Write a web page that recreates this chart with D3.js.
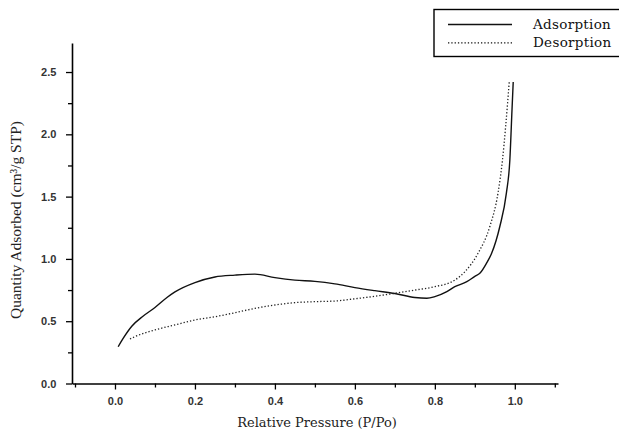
<!DOCTYPE html>
<meta charset="utf-8">
<style>
  body { margin: 0; background: #fff; }
  .tick text { font-family: "Liberation Sans", Arial, sans-serif; font-size: 11px; font-weight: bold; fill: #333; }
</style>
<svg width="619" height="432"></svg>
<script src="https://d3js.org/d3.v7.min.js"></script>
<script>

var adsX = [0.008, 0.02, 0.042, 0.07, 0.1, 0.13, 0.15, 0.2, 0.25, 0.3, 0.35, 0.4, 0.45, 0.5, 0.55, 0.6, 0.65, 0.7, 0.75, 0.78, 0.8, 0.83, 0.85, 0.88, 0.9, 0.9125, 0.93, 0.942, 0.9625, 0.979, 0.9875, 0.993, 0.996];
var adsY = [0.295, 0.36, 0.46, 0.54, 0.61, 0.69, 0.735, 0.81, 0.855, 0.87, 0.878, 0.85, 0.83, 0.82, 0.80, 0.77, 0.745, 0.722, 0.69, 0.684, 0.697, 0.737, 0.777, 0.817, 0.86, 0.884, 0.97, 1.045, 1.26, 1.53, 1.79, 2.2, 2.42];

var desX = [0.0375, 0.05, 0.1, 0.15, 0.2, 0.25, 0.3, 0.35, 0.4, 0.45, 0.5, 0.55, 0.6, 0.65, 0.7, 0.75, 0.8, 0.85, 0.875, 0.908, 0.9375, 0.958, 0.969, 0.977, 0.986];
var desY = [0.357, 0.376, 0.43, 0.47, 0.51, 0.536, 0.568, 0.603, 0.63, 0.649, 0.657, 0.662, 0.68, 0.70, 0.724, 0.75, 0.777, 0.83, 0.897, 1.045, 1.26, 1.53, 1.79, 2.06, 2.42];

var xTicks = [0.0, 0.2, 0.4, 0.6, 0.8, 1.0];
var yTicks = [0.0, 0.5, 1.0, 1.5, 2.0, 2.5];
var seriesNames = ["Adsorption", "Desorption"];

var svg = d3.select("svg");

var x = d3.scaleLinear().domain([-0.1075, 1.108]).range([72, 558]);
var y = d3.scaleLinear().domain([0, 2.733]).range([383.5, 43]);

// x axis: major ticks with labels, minor ticks in between
var xAxis = svg.append("g")
    .attr("transform", "translate(0," + y(0) + ")")
    .call(d3.axisBottom(x).tickValues(xTicks).tickFormat(d3.format(".1f")).tickSize(6).tickSizeOuter(0));
svg.append("g")
    .attr("transform", "translate(0," + y(0) + ")")
    .call(d3.axisBottom(x).tickValues([-0.1, 0.1, 0.3, 0.5, 0.7, 0.9, 1.1]).tickFormat("").tickSize(4).tickSizeOuter(0))
    .select(".domain").remove();

var yAxis = svg.append("g")
    .attr("transform", "translate(" + x.range()[0] + ",0)")
    .call(d3.axisLeft(y).tickValues(yTicks).tickFormat(d3.format(".1f")).tickSize(6).tickSizeOuter(0));
svg.append("g")
    .attr("transform", "translate(" + x.range()[0] + ",0)")
    .call(d3.axisLeft(y).tickValues([0.25, 0.75, 1.25, 1.75, 2.25]).tickFormat("").tickSize(4).tickSizeOuter(0))
    .select(".domain").remove();

svg.selectAll(".domain").attr("stroke", "#000").attr("stroke-width", 1.6);
svg.selectAll(".tick line").attr("stroke", "#000").attr("stroke-width", 1.3);
xAxis.selectAll(".tick text").attr("dy", "1.1em");
yAxis.selectAll(".tick text").attr("dx", "-0.6em");

var line = d3.line()
    .x(function(d) { return x(d[0]); })
    .y(function(d) { return y(d[1]); })
    .curve(d3.curveMonotoneX);

var ads = d3.zip(adsX, adsY);
var des = d3.zip(desX, desY);

svg.append("path")
    .datum(ads)
    .attr("d", line)
    .attr("fill", "none")
    .attr("stroke", "#111")
    .attr("stroke-width", 1.4);

svg.append("path")
    .datum(des)
    .attr("d", line)
    .attr("fill", "none")
    .attr("stroke", "#222")
    .attr("stroke-width", 1.3)
    .attr("stroke-dasharray", "1.3,2");

// legend
var legend = svg.append("g");
legend.append("rect")
    .attr("x", 434).attr("y", 9.5)
    .attr("width", 200).attr("height", 47)
    .attr("fill", "#fff").attr("stroke", "#000").attr("stroke-width", 1.4);
seriesNames.forEach(function(name, i) {
    var ly = 24.5 + i * 18.3;
    legend.append("line")
        .attr("x1", 448).attr("x2", 512)
        .attr("y1", ly).attr("y2", ly)
        .attr("stroke", "#111").attr("stroke-width", 1.3)
        .attr("stroke-dasharray", i ? "1.3,2" : null);
    legend.append("text")
        .attr("x", 533).attr("y", ly + 4.5)
        .attr("font-family", "DejaVu Serif, serif")
        .attr("font-size", 13.5)
        .attr("letter-spacing", 0.3)
        .attr("fill", "#111")
        .text(name);
});

svg.append("text")
    .attr("x", 317).attr("y", 427)
    .attr("text-anchor", "middle")
    .attr("font-family", "DejaVu Serif, serif")
    .attr("font-size", 13)
    .attr("fill", "#222")
    .text("Relative Pressure (P/Po)");

svg.append("text")
    .attr("transform", "translate(21,220) rotate(-90)")
    .attr("text-anchor", "middle")
    .attr("font-family", "Liberation Serif, serif")
    .attr("font-size", 15.5)
    .attr("fill", "#222")
    .text("Quantity Adsorbed (cm\u00b3/g STP)");

</script>
